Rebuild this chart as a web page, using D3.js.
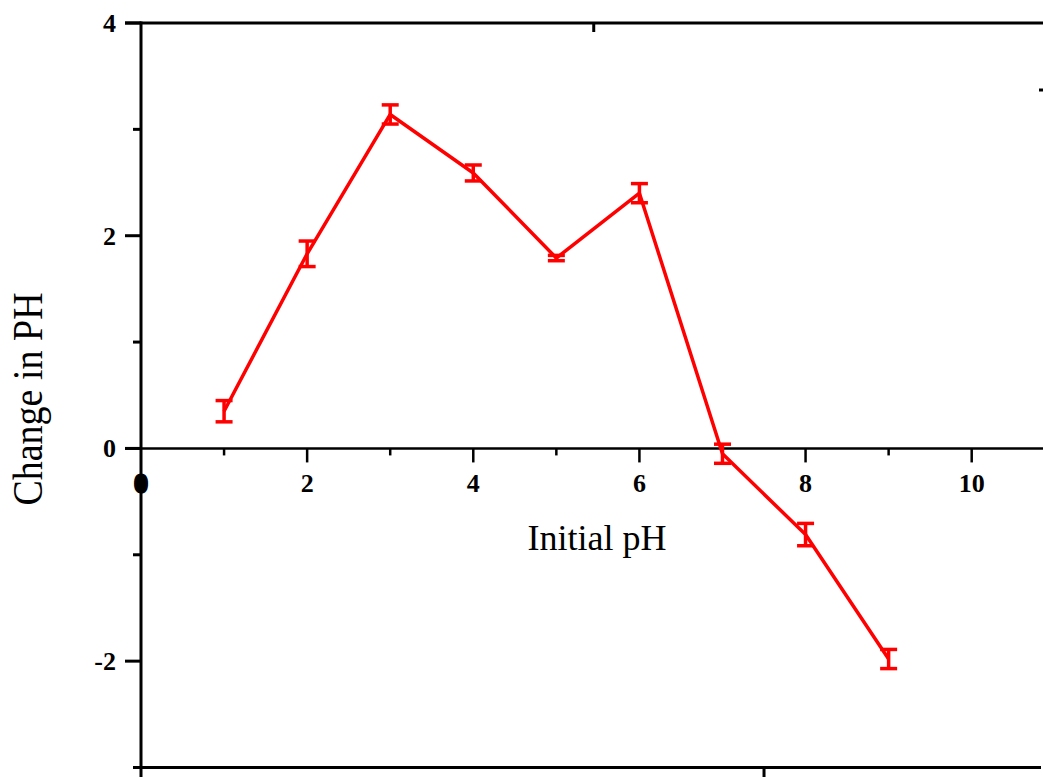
<!DOCTYPE html>
<html>
<head>
<meta charset="utf-8">
<script src="https://cdn.jsdelivr.net/npm/d3@7"></script>
<style>
  html, body { margin: 0; padding: 0; background: #fff; }
  svg { display: block; }
  text { font-family: "Liberation Serif", "Times New Roman", serif; fill: #000; }
</style>
</head>
<body>
<svg id="chart" width="1043" height="777"></svg>
<script>
// Initial pH of each sample
const initialPH = [1, 2, 3, 4, 5, 6, 7, 8, 9];
// Mean change in pH
const changePH = [0.35, 1.83, 3.14, 2.59, 1.79, 2.40, -0.05, -0.81, -1.98];
// Error (± one standard deviation)
const errorPH = [0.10, 0.12, 0.09, 0.075, 0.025, 0.09, 0.09, 0.105, 0.09];

const xMajorTicks = [0, 2, 4, 6, 8, 10];
const xMinorTicks = [1, 3, 5, 7, 9];
const yMajorTicks = [4, 2, 0, -2];
const yMinorTicks = [3, 1, -1, -3];

const W = 1043, H = 777;
const svg = d3.select("#chart");

const x = d3.scaleLinear().domain([0, 10]).range([141, 971.7]);
const y = d3.scaleLinear().domain([-3, 4]).range([767.5, 23]);

const axisColor = "#000";
const red = "#ff0000";

// frame: top and bottom borders, left axis
svg.append("line").attr("x1", 125).attr("x2", W).attr("y1", y(4)).attr("y2", y(4))
  .attr("stroke", axisColor).attr("stroke-width", 3);
svg.append("line").attr("x1", 133).attr("x2", 1041).attr("y1", y(-3)).attr("y2", y(-3))
  .attr("stroke", axisColor).attr("stroke-width", 3);
svg.append("line").attr("x1", x(0)).attr("x2", x(0)).attr("y1", y(4) - 1.5).attr("y2", H)
  .attr("stroke", axisColor).attr("stroke-width", 3);

// stray ticks on the frame
svg.append("line").attr("x1", x(5.45)).attr("x2", x(5.45)).attr("y1", y(4)).attr("y2", y(4) + 9)
  .attr("stroke", axisColor).attr("stroke-width", 3);
svg.append("line").attr("x1", x(7.5)).attr("x2", x(7.5)).attr("y1", y(-3)).attr("y2", H)
  .attr("stroke", axisColor).attr("stroke-width", 3);
svg.append("line").attr("x1", 1039).attr("x2", 1043).attr("y1", y(3.37)).attr("y2", y(3.37))
  .attr("stroke", axisColor).attr("stroke-width", 3);

// y axis ticks and labels
const yAxis = svg.append("g");
yAxis.selectAll("line.major").data(yMajorTicks).join("line")
  .attr("x1", x(0) - 16).attr("x2", x(0)).attr("y1", d => y(d)).attr("y2", d => y(d))
  .attr("stroke", axisColor).attr("stroke-width", 3);
yAxis.selectAll("line.minor").data(yMinorTicks).join("line").attr("class", "minor")
  .attr("x1", x(0) - 8).attr("x2", x(0)).attr("y1", d => y(d)).attr("y2", d => y(d))
  .attr("stroke", axisColor).attr("stroke-width", 3);
yAxis.selectAll("text").data(yMajorTicks).join("text")
  .attr("x", 116).attr("y", d => y(d)).attr("dy", "0.34em")
  .attr("text-anchor", "end").attr("font-size", 26).attr("font-weight", "bold")
  .text(d => d);

// x axis through zero
svg.append("line").attr("x1", 125).attr("x2", W).attr("y1", y(0)).attr("y2", y(0))
  .attr("stroke", axisColor).attr("stroke-width", 2.5);
const xAxis = svg.append("g");
xAxis.selectAll("line.major").data(xMajorTicks.filter(d => d > 0)).join("line")
  .attr("x1", d => x(d)).attr("x2", d => x(d)).attr("y1", y(0)).attr("y2", y(0) + 14)
  .attr("stroke", axisColor).attr("stroke-width", 2.5);
xAxis.selectAll("line.minor").data(xMinorTicks).join("line").attr("class", "minor")
  .attr("x1", d => x(d)).attr("x2", d => x(d)).attr("y1", y(0)).attr("y2", y(0) + 7)
  .attr("stroke", axisColor).attr("stroke-width", 2.5);
xAxis.selectAll("text").data(xMajorTicks).join("text")
  .attr("x", d => x(d)).attr("y", 492)
  .attr("text-anchor", "middle").attr("font-size", 26).attr("font-weight", "bold")
  .attr("stroke", d => d === 0 ? "#000" : "none").attr("stroke-width", d => d === 0 ? 3 : 0)
  .text(d => d);

// axis titles
svg.append("text").attr("x", 597).attr("y", 550).attr("text-anchor", "middle")
  .attr("font-size", 36).text("Initial pH");
svg.append("text").attr("transform", "translate(42,399) rotate(-90) scale(1,1.12)")
  .attr("text-anchor", "middle").attr("font-size", 38).text("Change in PH");

// data line
const pts = initialPH.map((d, i) => ({ x: d, y: changePH[i], e: errorPH[i] }));
svg.append("path").datum(pts)
  .attr("fill", "none").attr("stroke", red).attr("stroke-width", 3.5)
  .attr("stroke-linejoin", "round")
  .attr("d", d3.line().x(d => x(d.x)).y(d => y(d.y)));

// error bars
const eb = svg.append("g").attr("stroke", red).attr("stroke-width", 3.5);
const cap = 8.5;
eb.selectAll("line.v").data(pts).join("line").attr("class", "v")
  .attr("x1", d => x(d.x)).attr("x2", d => x(d.x))
  .attr("y1", d => y(d.y + d.e)).attr("y2", d => y(d.y - d.e));
eb.selectAll("line.t").data(pts).join("line").attr("class", "t")
  .attr("x1", d => x(d.x) - cap).attr("x2", d => x(d.x) + cap)
  .attr("y1", d => y(d.y + d.e)).attr("y2", d => y(d.y + d.e));
eb.selectAll("line.b").data(pts).join("line").attr("class", "b")
  .attr("x1", d => x(d.x) - cap).attr("x2", d => x(d.x) + cap)
  .attr("y1", d => y(d.y - d.e)).attr("y2", d => y(d.y - d.e));
</script>
</body>
</html>
